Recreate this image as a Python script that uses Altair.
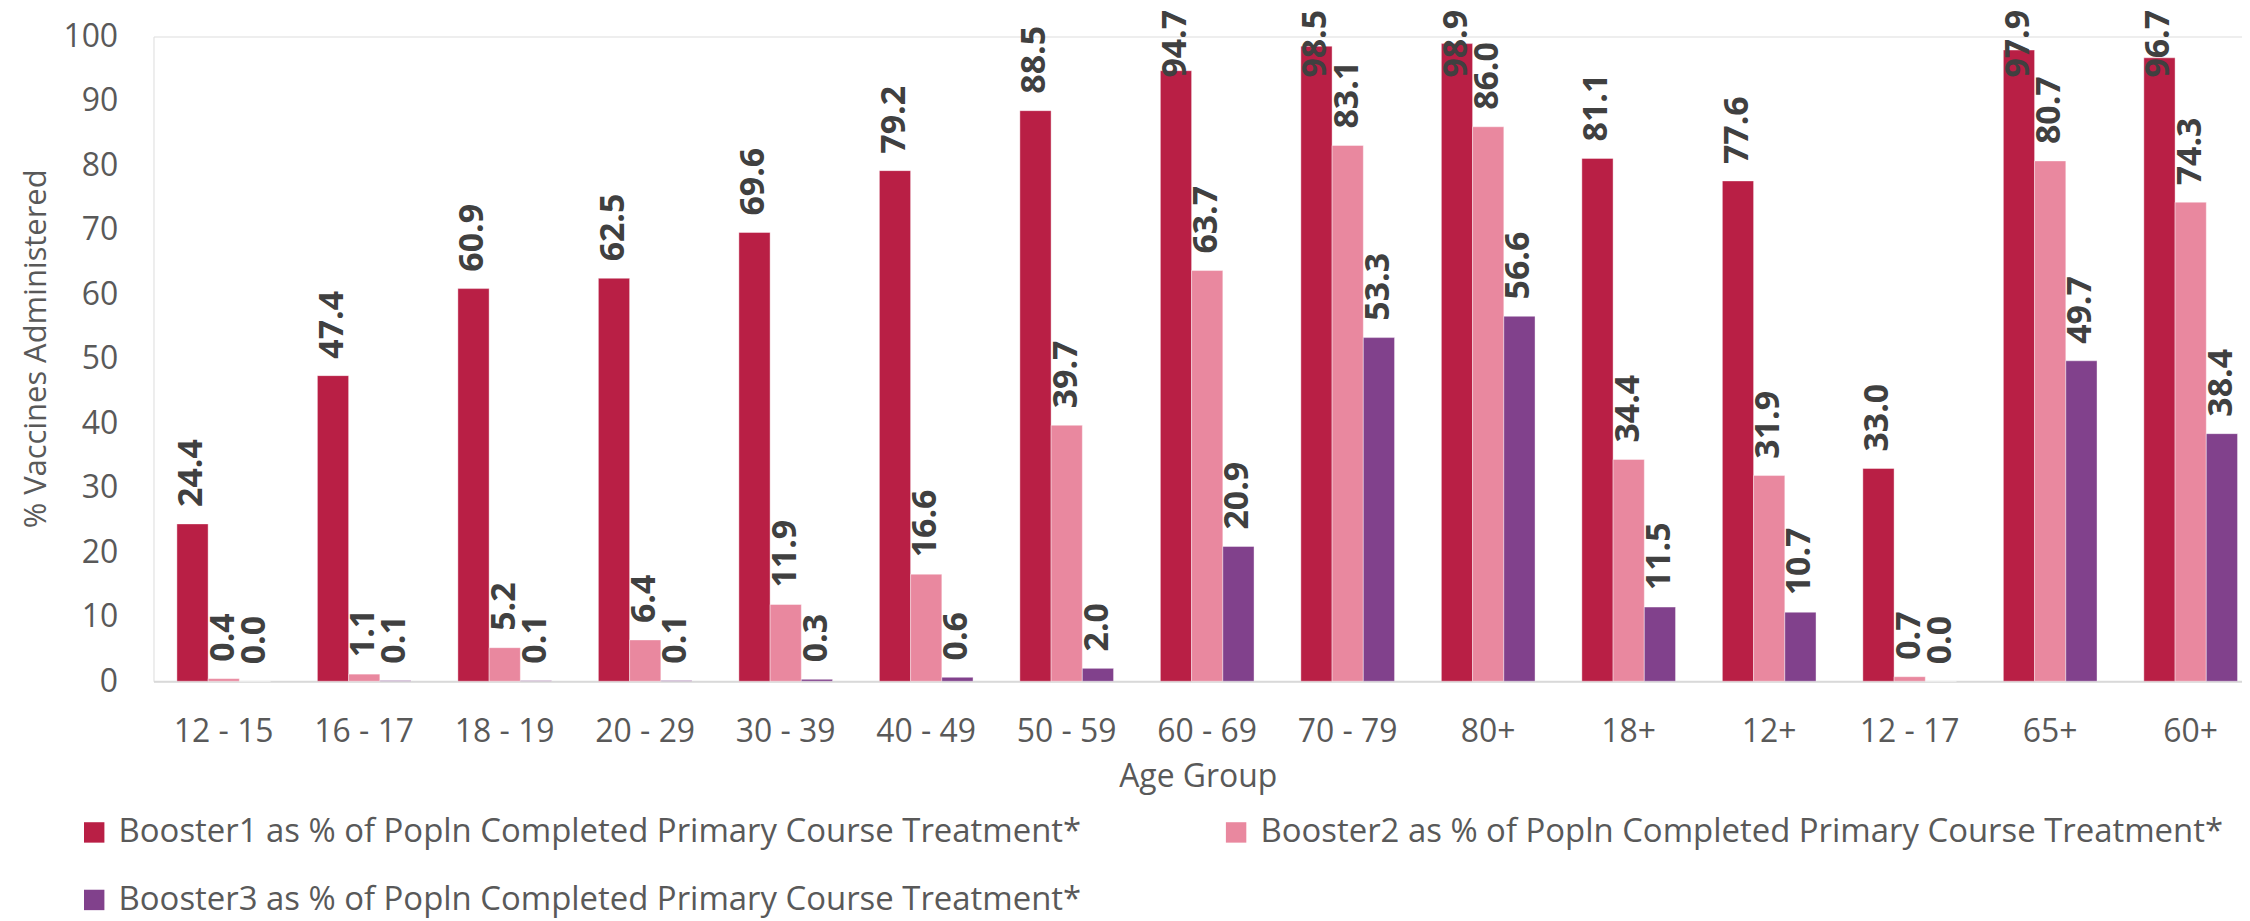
import altair as alt
import pandas as pd

categories = ["12 - 15", "16 - 17", "18 - 19", "20 - 29", "30 - 39", "40 - 49", "50 - 59",
              "60 - 69", "70 - 79", "80+", "18+", "12+", "12 - 17", "65+", "60+"]
series = [
    "Booster1 as % of Popln Completed Primary Course Treatment*",
    "Booster2 as % of Popln Completed Primary Course Treatment*",
    "Booster3 as % of Popln Completed Primary Course Treatment*",
]
booster1 = [24.4, 47.4, 60.9, 62.5, 69.6, 79.2, 88.5, 94.7, 98.5, 98.9, 81.1, 77.6, 33.0, 97.9, 96.7]
booster2 = [0.4, 1.1, 5.2, 6.4, 11.9, 16.6, 39.7, 63.7, 83.1, 86.0, 34.4, 31.9, 0.7, 80.7, 74.3]
booster3 = [0.0, 0.1, 0.1, 0.1, 0.3, 0.6, 2.0, 20.9, 53.3, 56.6, 11.5, 10.7, 0.0, 49.7, 38.4]
colors = ["#B91F45", "#E9889F", "#81418C"]

rows = []
for i, c in enumerate(categories):
    for s, vals in zip(series, [booster1, booster2, booster3]):
        rows.append({"group": c, "series": s, "value": vals[i]})
df = pd.DataFrame(rows)

FONT = "Open Sans"

x_enc = alt.X(
    "group:N", sort=categories,
    scale=alt.Scale(range=[0, 2115], paddingInner=1 / 3, paddingOuter=1 / 6),
    axis=alt.Axis(
        title="Age Group", labelAngle=0, ticks=False, tickSize=0, labelPadding=35,
        labelFontSize=32, labelColor="#595959", labelFont=FONT,
        domainColor="#D9D9D9", domainWidth=2, grid=False,
        titleFontSize=32, titleColor="#595959", titleFont=FONT, titleFontWeight="normal",
        titleX=1048, titleY=106, titleAlign="center", titleBaseline="alphabetic",
    ),
)
xoff = alt.XOffset("series:N", sort=series, scale=alt.Scale(paddingInner=0, paddingOuter=0))
y_scale = alt.Scale(domain=[0, 100], nice=False)

bars = alt.Chart(df).mark_bar(stroke="#ffffff", strokeWidth=0.8, strokeOpacity=0.5).encode(
    x=x_enc,
    xOffset=xoff,
    y=alt.Y(
        "value:Q", scale=y_scale,
        axis=alt.Axis(
            title="% Vaccines Administered", values=list(range(0, 101, 10)), grid=False,
            domain=False, ticks=False, tickSize=0, labelPadding=36,
            labelFontSize=32, labelColor="#595959", labelFont=FONT,
            titleFontSize=31, titleColor="#595959", titleFont=FONT, titleFontWeight="normal",
            titleX=-117, titleY=313, titleAngle=270, titleAlign="center", titleBaseline="middle",
        ),
    ),
    color=alt.Color(
        "series:N", sort=series,
        scale=alt.Scale(domain=series, range=colors),
        legend=alt.Legend(
            title=None, orient="none", legendX=-76, legendY=782, columns=2,
            direction="horizontal",
            symbolType="square", symbolSize=420, symbolStrokeWidth=0, symbolOpacity=1,
            labelFontSize=33, labelFont=FONT, labelColor="#595959", labelLimit=2000,
            labelOffset=8, columnPadding=138, rowPadding=34, padding=0,
        ),
    ),
)

labels = alt.Chart(df).transform_calculate(
    label_y="min(datum.value, 91)"
).mark_text(
    angle=270, align="left", baseline="middle", dx=17,
    font=FONT, fontSize=34, fontWeight="bold", color="#404040",
).encode(
    x=alt.X("group:N", sort=categories),
    xOffset=xoff,
    y=alt.Y("label_y:Q", scale=y_scale),
    text=alt.Text("value:Q", format=".1f"),
)

chart = alt.layer(bars, labels).properties(
    width=2096, height=647,
    autosize=alt.AutoSizeParams(type="none"),
    padding={"left": 146, "top": 27, "right": 0, "bottom": 239},
).configure_view(stroke=None).configure(font=FONT)

chart.save("out.html", embed_options={"renderer": "svg", "actions": False})
